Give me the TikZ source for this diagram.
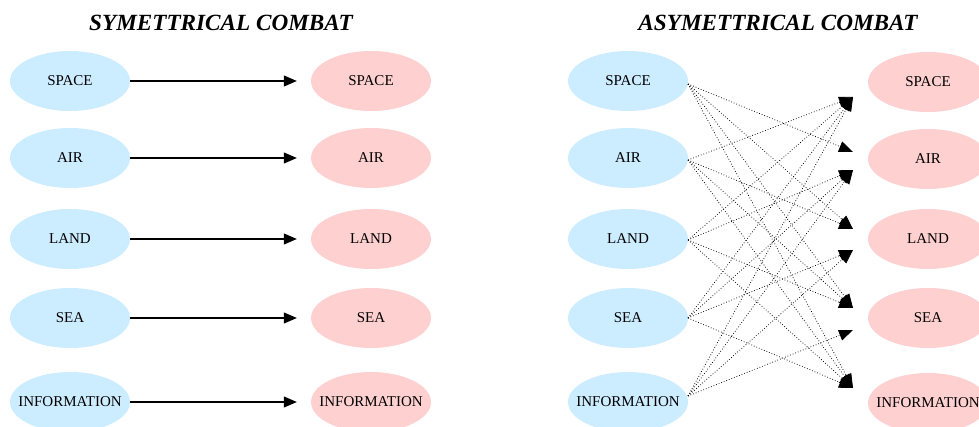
\documentclass[tikz,border=0pt]{standalone}
\usepackage{fontspec}
\setmainfont{Liberation Serif}
\usetikzlibrary{arrows.meta,shapes.geometric}
\definecolor{srcblue}{RGB}{204,236,255}
\definecolor{tgtpink}{RGB}{255,208,208}
\tikzset{
  areanode/.style={ellipse, minimum width=120pt, minimum height=60pt, inner xsep=-25pt, inner ysep=0pt, font=\fontsize{15}{17}\selectfont},
  srcnode/.style={areanode, fill=srcblue},
  tgtnode/.style={areanode, fill=tgtpink},
  titletext/.style={font=\fontsize{23.2}{26}\selectfont\bfseries\itshape},
  symarrow/.style={line width=1.1pt, -{Triangle[length=13pt,width=11pt]}, shorten >=14pt},
  asymarrow/.style={line width=0.75pt, dotted, -{Triangle[length=14pt,width=11pt]}}
}
\begin{document}
\begin{tikzpicture}[x=1pt,y=-1pt]
\useasboundingbox (0,0) rectangle (979,427);
% titles
\node[titletext] (t1) at (221,22.5) {SYMETTRICAL COMBAT};
\node[titletext] (t2) at (778,22.5) {ASYMETTRICAL COMBAT};
% left diagram
\node[srcnode] (ls) at (70,81) {SPACE};
\node[srcnode] (la) at (70,158) {AIR};
\node[srcnode] (ll) at (70,239) {LAND};
\node[srcnode] (le) at (70,318) {SEA};
\node[srcnode] (li) at (70,402) {INFORMATION};
\node[tgtnode] (ms) at (371,81) {SPACE};
\node[tgtnode] (ma) at (371,158) {AIR};
\node[tgtnode] (ml) at (371,239) {LAND};
\node[tgtnode] (me) at (371,318) {SEA};
\node[tgtnode] (mi) at (371,402) {INFORMATION};
\draw[symarrow] (ls.east) -- (ms.west);
\draw[symarrow] (la.east) -- (ma.west);
\draw[symarrow] (ll.east) -- (ml.west);
\draw[symarrow] (le.east) -- (me.west);
\draw[symarrow] (li.east) -- (mi.west);
% right diagram
\node[srcnode] (rs) at (628,81) {SPACE};
\node[srcnode] (ra) at (628,158) {AIR};
\node[srcnode] (rl) at (628,239) {LAND};
\node[srcnode] (re) at (628,318) {SEA};
\node[srcnode] (ri) at (628,402) {INFORMATION};
\node[tgtnode] (ps) at (928,82) {SPACE};
\node[tgtnode] (pa) at (928,159) {AIR};
\node[tgtnode] (pl) at (928,239) {LAND};
\node[tgtnode] (pe) at (928,318) {SEA};
\node[tgtnode] (pi) at (928,403) {INFORMATION};
% edge ends near targets
\coordinate (eS) at (853,97);
\coordinate (eAu) at (853,152);
\coordinate (eAl) at (853,170);
\coordinate (eLu) at (853,229);
\coordinate (eLl) at (853,250);
\coordinate (eEu) at (853,308);
\coordinate (eEl) at (853,330);
\coordinate (eIu) at (853,388);
% start points
\coordinate (sS) at (688,84);
\coordinate (sA) at (688,160);
\coordinate (sL) at (688,240);
\coordinate (sE) at (688,318);
\coordinate (sI) at (688,396);
% to SPACE
\draw[asymarrow] (sA) -- (eS);
\draw[asymarrow] (sL) -- (eS);
\draw[asymarrow] (sE) -- (eS);
\draw[asymarrow] (sI) -- (eS);
% to AIR
\draw[asymarrow] (sS) -- (eAu);
\draw[asymarrow] (sL) -- (eAl);
\draw[asymarrow] (sE) -- (eAl);
\draw[asymarrow] (sI) -- (eAl);
% to LAND
\draw[asymarrow] (sS) -- (eLu);
\draw[asymarrow] (sA) -- (eLu);
\draw[asymarrow] (sE) -- (eLl);
\draw[asymarrow] (sI) -- (eLl);
% to SEA
\draw[asymarrow] (sS) -- (eEu);
\draw[asymarrow] (sA) -- (eEu);
\draw[asymarrow] (sL) -- (eEu);
\draw[asymarrow] (sI) -- (eEl);
% to INFORMATION
\draw[asymarrow] (sS) -- (eIu);
\draw[asymarrow] (sA) -- (eIu);
\draw[asymarrow] (sL) -- (eIu);
\draw[asymarrow] (sE) -- (eIu);
\end{tikzpicture}
\end{document}
